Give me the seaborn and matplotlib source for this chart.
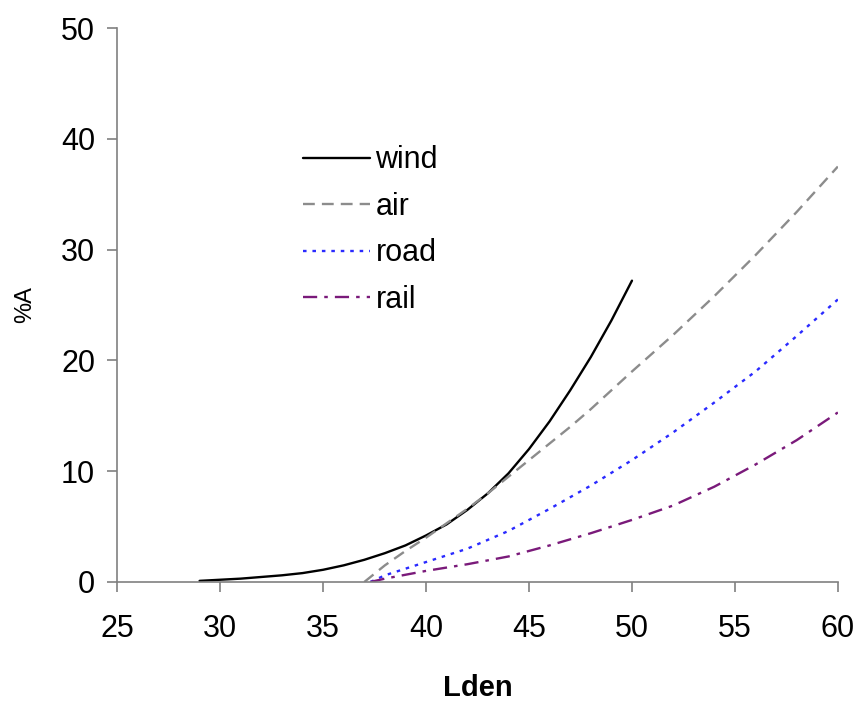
import numpy as np
import pandas as pd
import seaborn as sns
import matplotlib.pyplot as plt

# values
wind_x = [29, 30, 31, 32, 33, 34, 35, 36, 37, 38, 39, 40, 41, 42, 43, 44, 45, 46, 47, 48, 49, 50]
wind_y = [0.1, 0.2, 0.3, 0.45, 0.6, 0.8, 1.1, 1.5, 2.0, 2.6, 3.3, 4.2, 5.2, 6.5, 8.0, 9.8, 12.0, 14.5, 17.3, 20.3, 23.6, 27.2]

air_x = [37, 38, 39, 40, 41, 42, 43, 44, 45, 46, 47, 48, 49, 50, 52, 54, 56, 58, 60]
air_y = [0, 1.5, 2.8, 4.0, 5.3, 6.6, 8.0, 9.5, 11.0, 12.5, 14.0, 15.6, 17.3, 19.0, 22.3, 25.8, 29.5, 33.4, 37.5]

road_x = [37.3, 38, 40, 42, 44, 46, 48, 50, 52, 54, 56, 58, 60]
road_y = [0, 0.6, 1.8, 3.0, 4.6, 6.6, 8.7, 11.0, 13.5, 16.2, 19.0, 22.2, 25.5]

rail_x = [37.3, 38, 40, 42, 44, 46, 48, 50, 52, 54, 56, 58, 60]
rail_y = [0, 0.3, 1.0, 1.6, 2.3, 3.3, 4.4, 5.6, 6.9, 8.6, 10.6, 12.8, 15.3]

sns.set_style("ticks")
plt.rcParams['font.family'] = ['Liberation Sans', 'DejaVu Sans']
plt.rcParams['text.color'] = 'black'
plt.rcParams['axes.labelcolor'] = 'black'
plt.rcParams['xtick.labelcolor'] = 'black'
plt.rcParams['ytick.labelcolor'] = 'black'

fig = plt.figure(figsize=(8.62, 7.02), dpi=100)
ax = fig.add_axes([0.136, 0.171, 0.836, 0.789])

series = [
    ("wind", wind_x, wind_y, "black", "-"),
    ("air", air_x, air_y, "#8c8c8c", (0, (5, 3))),
    ("road", road_x, road_y, "#2a2aff", (0, (1.5, 2.5))),
    ("rail", rail_x, rail_y, "#7a1a7a", (0, (6, 3, 1.5, 3))),
]
for name, xs, ys, col, ls in series:
    df = pd.DataFrame({"Lden": xs, "A": ys})
    sns.lineplot(data=df, x="Lden", y="A", ax=ax, color=col, linestyle=ls,
                 linewidth=1.7, label=name)

ax.set_xlim(25, 60)
ax.set_ylim(0, 50)
ax.set_xticks(np.arange(25, 61, 5))
ax.set_yticks(np.arange(0, 51, 10))
ax.tick_params(labelsize=22, length=7, color="#808080", width=1.2)
ax.tick_params(axis="x", pad=16)
ax.tick_params(axis="y", pad=9)
for s in ["left", "bottom"]:
    ax.spines[s].set_color("#808080")
    ax.spines[s].set_linewidth(1.2)
sns.despine(ax=ax)

ax.set_xlabel("Lden", fontsize=21, fontweight="bold", labelpad=22)
ax.set_ylabel("%A", fontsize=17, labelpad=18)

ax.legend(loc="upper left", bbox_to_anchor=(0.22, 0.838), frameon=False,
          fontsize=22, handlelength=2.2, handletextpad=0.16, labelspacing=0.54)

fig.savefig("out.png", dpi=100)
